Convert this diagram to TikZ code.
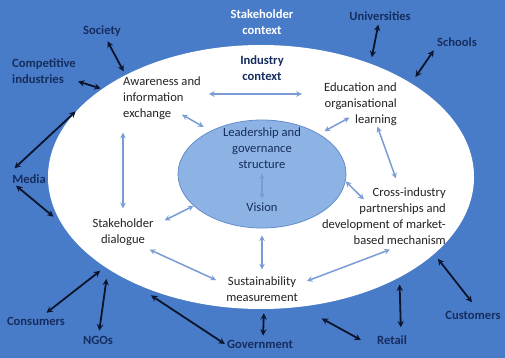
\documentclass[tikz,border=0pt]{standalone}
\usepackage{fontspec}
\setmainfont{Carlito}
\usepackage{tikz}
\usetikzlibrary{arrows, shapes, positioning}

\definecolor{bgblue}{RGB}{73,124,200}
\definecolor{coreblue}{RGB}{141,178,228}
\definecolor{coreline}{RGB}{100,140,205}
\definecolor{navy}{RGB}{22,45,95}
\definecolor{darkarrow}{RGB}{10,20,45}
\definecolor{litearrow}{RGB}{122,156,212}
\definecolor{txtgrey}{RGB}{35,35,35}

\begin{document}
\begin{tikzpicture}[x=1pt, y=-1pt,
		every node/.style={font=\fontsize{12.6}{16}\selectfont, inner sep=2pt},
		outerlbl/.style={text=navy, font=\fontsize{12.6}{16}\selectfont\bfseries},
		innerlbl/.style={text=txtgrey},
		darkarr/.style={stealth-stealth, line width=1.8pt, draw=darkarrow},
		litearr/.style={stealth-stealth, line width=1.5pt, draw=litearrow}]
	\fill[bgblue] (0,0) rectangle (505,358);
	\node[ellipse, fill=white, minimum width=426pt, minimum height=264pt, inner sep=0pt] (outer) at (261,177) {};
	\node[ellipse, fill=coreblue, draw=coreline, line width=0.8pt, minimum width=168pt, minimum height=108pt, inner sep=0pt] (core) at (262,174) {};
	
	\node[text=white, font=\fontsize{12.6}{16}\selectfont\bfseries, align=center] (stake) at (262,22) {Stakeholder\\context};
	\node[outerlbl, align=center] (industry) at (262,68) {Industry\\context};
	
	\node[innerlbl, align=left, anchor=west] (aware) at (121,98) {Awareness and\\information\\exchange};
	\node[innerlbl, align=right, anchor=east] (edu) at (399,104) {Education and\\organisational\\learning};
	\node[text=navy, align=center] (lead) at (262,148) {Leadership and\\governance\\structure};
	\node[text=navy, below=30pt of lead] (vision) {Vision};
	\node[innerlbl, align=right, anchor=east] (cross) at (448,216) {Cross-industry\\partnerships and\\development of market-\\based mechanism};
	\node[innerlbl, align=center] (dialog) at (123,232) {Stakeholder\\dialogue};
	\node[innerlbl, align=center] (sustain) at (262,289) {Sustainability\\measurement};
	
	\node[outerlbl] (society) at (102,31) {Society};
	\node[outerlbl, align=left, anchor=west] (comp) at (10,71) {Competitive\\industries};
	\node[outerlbl] (media) at (29,179) {Media};
	\node[outerlbl] (consumers) at (36,321) {Consumers};
	\node[outerlbl] (ngos) at (98,340) {NGOs};
	\node[outerlbl] (govt) at (260,344) {Government};
	\node[outerlbl] (retail) at (392,340) {Retail};
	\node[outerlbl] (customers) at (473,315) {Customers};
	\node[outerlbl] (univ) at (380,16) {Universities};
	\node[outerlbl] (schools) at (457,42) {Schools};
	
	% stakeholders to the outer ring
	\draw[darkarr, shorten <=3pt, shorten >=4pt] (society) -- (outer.143);
	\draw[darkarr, shorten >=1.5pt] (comp) -- (outer.151);
	\draw[darkarr, shorten <=6pt, shorten >=2pt] (media.north west) -- (outer.160);
	\draw[darkarr, shorten >=10pt] ([xshift=6pt]media.south west) -- (outer.193);
	\draw[darkarr, shorten <=3pt, shorten >=6pt] (consumers) -- (outer.210);
	\draw[darkarr, shorten <=3pt, shorten >=10pt] (ngos) -- (outer.211.5);
	\draw[darkarr, shorten >=27pt] (govt.west) -- (outer.218);
	\draw[darkarr, shorten <=2pt, shorten >=4pt] ([xshift=3pt]govt.north) -- ([xshift=3pt]outer.south);
	\draw[darkarr, shorten >=24pt] ([xshift=-14pt]retail.west) -- (outer.287);
	\draw[darkarr, shorten <=6pt, shorten >=7pt] ([xshift=9pt]retail.north) -- (outer.324.6);
	\draw[darkarr, shorten <=8pt, shorten >=6pt] ([xshift=4pt]customers.north) -- (outer.336);
	\draw[darkarr, shorten <=2pt, shorten >=6.5pt] (univ) -- (outer.46);
	\draw[darkarr, shorten <=2pt, shorten >=7.5pt] (schools.south west) -- (outer.32.5);
	
	% industry context links
	\draw[litearr, shorten <=6pt, shorten >=20pt] ([yshift=4pt]aware.east) -- ([yshift=4pt]aware.east -| edu.west);
	\draw[litearr, shorten >=8pt] ([shift={(20,-7)}]aware.south) -- (core.140);
	\draw[litearr, shorten <=11pt, shorten >=8pt] (dialog.north |- aware.south) -- (dialog.north);
	\draw[litearr, shorten >=6pt] ([shift={(-11,-10)}]edu.south) -- (core.35);
	\draw[litearr] ([shift={(17,-1)}]edu.south) -- ([shift={(12,-7)}]cross.north);
	\draw[litearr] (core.-5) -- ([shift={(-20,14)}]cross.north);
	\draw[litearr] ([shift={(6,3)}]cross.south) -- ([shift={(7,-8)}]sustain.east);
	\draw[litearr] ([shift={(9,4)}]dialog.north east) -- (core.205);
	\draw[litearr] ([shift={(-6,2)}]dialog.south east) -- ([shift={(-8,-9)}]sustain.west);
	\draw[litearr, shorten <=7pt, shorten >=5pt] (core.south) -- (sustain.north);
	\draw[litearr, shorten <=3pt, shorten >=2pt] (lead) -- (vision);
\end{tikzpicture}
\end{document}
